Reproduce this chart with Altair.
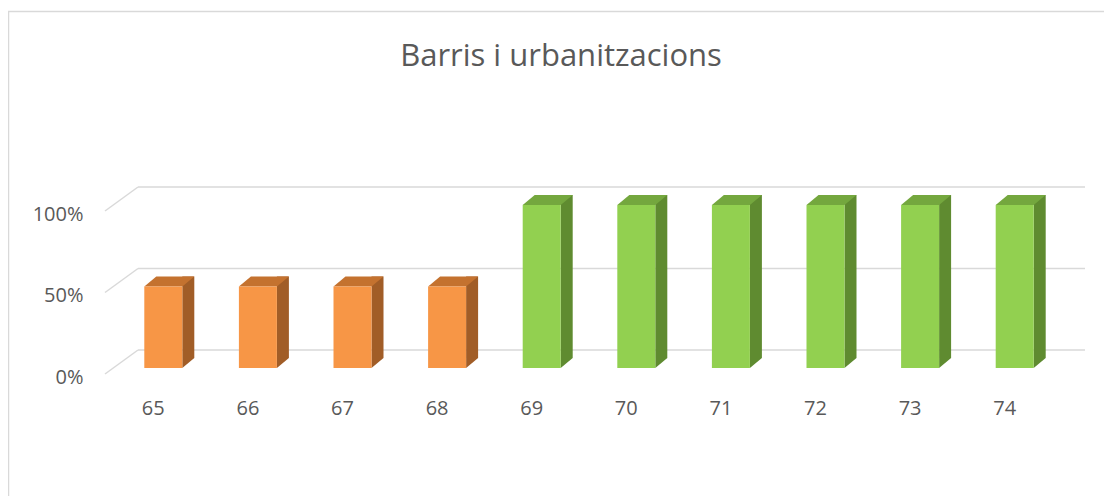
import altair as alt
import pandas as pd

# ---- data ----
categories = ["65", "66", "67", "68", "69", "70", "71", "72", "73", "74"]
values = [0.5, 0.5, 0.5, 0.5, 1.0, 1.0, 1.0, 1.0, 1.0, 1.0]
grid_values = [0.0, 0.5, 1.0]
title_text = "Barris i urbanitzacions"

df = pd.DataFrame({"barri": categories, "pct": values})
grid_df = pd.DataFrame({"g": grid_values})
one = pd.DataFrame({"label": [title_text]})

# ---- style ----
W, H = 946, 163
FONT = "Open Sans"
TXT = "#595959"
GRID = "#D9D9D9"
FRONT_O, TOP_O, SIDE_O = "#F79646", "#C4722F", "#A15D27"
FRONT_G, TOP_G, SIDE_G = "#92D050", "#74A73E", "#5F8B30"
cond = "datum.pct < 1"

yscale = alt.Scale(domain=[0, 1])
xscale = alt.Scale(paddingInner=0, paddingOuter=0)

x_axis = alt.Axis(title=None, labelAngle=0, ticks=False, domain=False, grid=False,
                  labelPadding=30, labelOffset=-10, labelFont=FONT, labelFontSize=20,
                  labelColor=TXT)
y_axis = alt.Axis(title=None, values=grid_values, format="%", ticks=False, domain=False,
                  grid=False, labelPadding=33, labelOffset=9, labelFont=FONT,
                  labelFontSize=20, labelColor=TXT)

X = alt.X("barri:N", sort=categories, scale=xscale, axis=x_axis)

base = alt.Chart(df)

# back wall gridlines
back = alt.Chart(grid_df).mark_rule(color=GRID, strokeWidth=1.5, yOffset=-18).encode(
    y=alt.Y("g:Q", scale=yscale, axis=y_axis),
    x=alt.value(22), x2=alt.value(969),
)
# side wall diagonals
diag = alt.Chart(grid_df).mark_rule(color=GRID, strokeWidth=1.5, yOffset=6, y2Offset=-18).encode(
    y=alt.Y("g:Q", scale=yscale, axis=y_axis),
    y2=alt.Y2("g:Q"),
    x=alt.value(-11), x2=alt.value(22),
)

# side face of each bar
side = base.mark_bar(width=12, xOffset=25, yOffset=-10, y2Offset=-10).encode(
    x=X,
    y=alt.Y("pct:Q", scale=yscale, axis=y_axis),
    y2=alt.datum(0),
    color=alt.condition(cond, alt.value(SIDE_O), alt.value(SIDE_G)),
)
side_bottom = base.transform_calculate(zero="0").mark_point(
    shape="M19,0 L19,-10 L31,-10 Z", size=4, filled=True, opacity=1, strokeWidth=0).encode(
    x=X,
    y=alt.Y("zero:Q", scale=yscale, axis=y_axis),
    color=alt.condition(cond, alt.value(SIDE_O), alt.value(SIDE_G)),
)

top = base.mark_point(shape="M-19,0 L19,0 L31,-10 L-7,-10 Z", size=4, filled=True,
                      opacity=1, strokeWidth=0).encode(
    x=X,
    y=alt.Y("pct:Q", scale=yscale, axis=y_axis),
    color=alt.condition(cond, alt.value(TOP_O), alt.value(TOP_G)),
)

front = base.mark_bar(width=38).encode(
    x=X,
    y=alt.Y("pct:Q", scale=yscale, axis=y_axis),
    color=alt.condition(cond, alt.value(FRONT_O), alt.value(FRONT_G)),
)

# chart title
title = alt.Chart(one).mark_text(font=FONT, fontSize=31, color=TXT, align="center",
                                 baseline="alphabetic").encode(
    text="label:N", x=alt.value(445), y=alt.value(-139))

# chart border (top and left edges visible in the reference)
border_top = alt.Chart(one).mark_rule(color=GRID, strokeWidth=1.5).encode(
    x=alt.value(-108), x2=alt.value(988), y=alt.value(-193.5))
border_left = alt.Chart(one).mark_rule(color=GRID, strokeWidth=1.5).encode(
    x=alt.value(-107.5), y=alt.value(-194), y2=alt.value(291))

chart = alt.layer(back, diag, border_top, border_left, side, side_bottom, top, front, title).properties(
    width=W, height=H,
    autosize=alt.AutoSizeParams(type="none"),
    padding={"left": 108, "top": 197, "right": 42, "bottom": 128},
).configure(background="white").configure_view(strokeWidth=0, stroke="transparent")

chart.save("out.html", embed_options={"renderer": "svg", "actions": False})
